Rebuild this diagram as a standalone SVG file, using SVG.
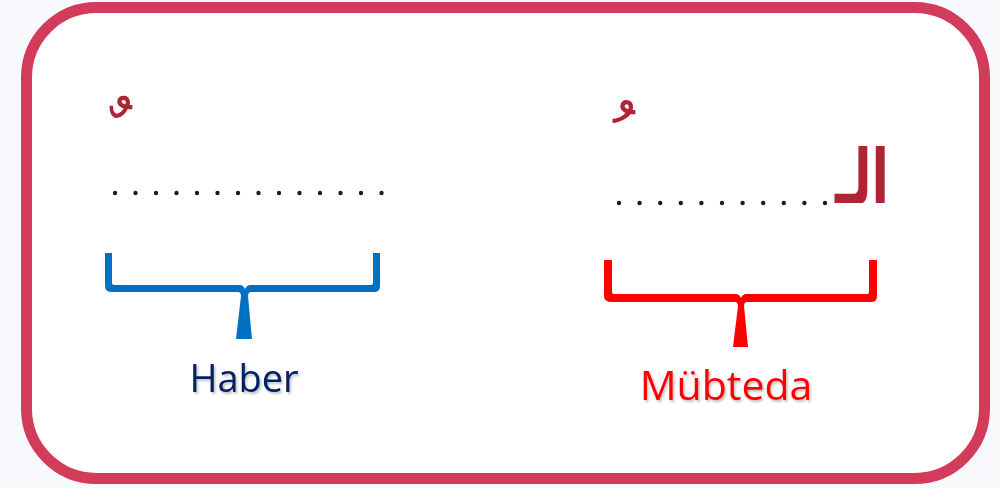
<svg xmlns="http://www.w3.org/2000/svg" width="1000" height="488" viewBox="0 0 1000 488">
  <style>
    .frame { fill: #FFFFFF; stroke: #D23C5A; stroke-width: 11; }
    .dot { fill: #1A1A2E; }
    .ar { font-family: "DejaVu Sans", sans-serif; fill: #B02436; }
    .lbl { font-family: "Open Sans", "Liberation Sans", sans-serif; font-size: 38px; text-anchor: middle; }
    .blue { fill: #0070C0; }
    .red { fill: #FF0000; }
  </style>
  <defs>
    <filter id="sh" x="-10%" y="-10%" width="130%" height="140%">
      <feDropShadow dx="1.5" dy="2" stdDeviation="1.2" flood-color="#000" flood-opacity="0.25"/>
    </filter>
    <g id="d"><circle r="2.2" class="dot"/></g>
  </defs>
  <rect width="1000" height="488" fill="#F8F9FC"/>
  <rect id="frame" class="frame" x="26.5" y="7.5" width="958" height="471" rx="70" ry="70"/>

  <g id="haber-slot">
    <text class="ar" x="121" y="165" font-size="80" text-anchor="middle">&#xFE72;</text>
    <g>
      <use href="#d" x="115" y="193"/><use href="#d" x="135.5" y="193"/><use href="#d" x="156" y="193"/><use href="#d" x="176.5" y="193"/>
      <use href="#d" x="197" y="193"/><use href="#d" x="217.5" y="193"/><use href="#d" x="238" y="193"/><use href="#d" x="258.5" y="193"/>
      <use href="#d" x="279" y="193"/><use href="#d" x="299.5" y="193"/><use href="#d" x="320" y="193"/><use href="#d" x="340.5" y="193"/>
      <use href="#d" x="361" y="193"/><use href="#d" x="381.5" y="193"/>
    </g>
  </g>

  <g id="mubteda-slot">
    <text class="ar" x="624" y="170" font-size="80" text-anchor="middle">&#xFE78;</text>
    <g>
      <use href="#d" x="619" y="203"/><use href="#d" x="639.6" y="203"/><use href="#d" x="660.2" y="203"/><use href="#d" x="680.8" y="203"/>
      <use href="#d" x="701.4" y="203"/><use href="#d" x="722" y="203"/><use href="#d" x="742.6" y="203"/><use href="#d" x="763.2" y="203"/>
      <use href="#d" x="783.8" y="203"/><use href="#d" x="804.4" y="203"/><use href="#d" x="825" y="203"/>
    </g>
    <text class="ar" transform="translate(889,203) scale(0.82,1.2)" x="0" y="0" font-size="62" font-weight="bold" text-anchor="start" direction="rtl">&#x0627;&#x0644;&#x0640;</text>
  </g>

  <g id="haber-brace">
    <path class="blue" d="M105,253 H112 V283 Q112,285 115,285 H240 Q243,285 245,289 Q247,285 250,285 H370 Q373,285 373,283 V253 H380 V286 Q380,292 374,292 H250 Q248,293 248,296 L252,339 H236 L241,296 Q241,293 239,292 H112 Q105,292 105,286 Z"/>
    <text id="haber-label" class="lbl" x="244" y="392" fill="#002060" filter="url(#sh)">Haber</text>
  </g>

  <g id="mubteda-brace">
    <path class="red" d="M604,260 H612 V292 Q612,294 615,294 H736 Q739,294 741,298 Q743,294 746,294 H866 Q869,294 869,292 V260 H877 V296 Q877,302 871,302 H746 Q744,303 744,306 L748,347 H733 L738,306 Q738,303 736,302 H612 Q604,302 604,296 Z"/>
    <text id="mubteda-label" class="lbl" x="726" y="400" style="font-size:41px" fill="#FF0000" filter="url(#sh)">Mübteda</text>
  </g>
</svg>
